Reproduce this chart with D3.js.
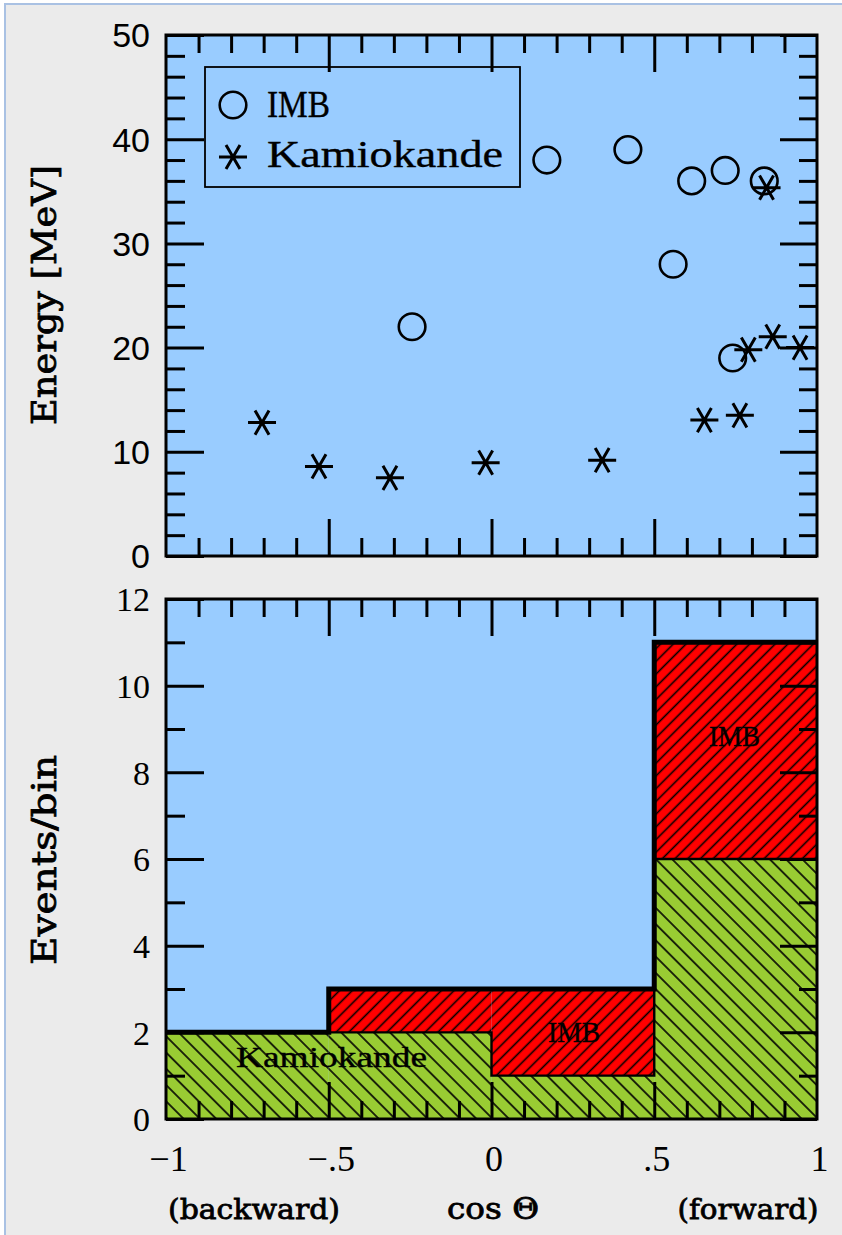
<!DOCTYPE html>
<html><head><meta charset="utf-8">
<script src="https://cdn.jsdelivr.net/npm/d3@7"></script>
<style>
html,body{margin:0;padding:0;background:#ffffff;}
svg{display:block;}
</style></head>
<body>
<script>
// ---------------- data ----------------
const imbCos    = [-0.244, 0.170, 0.419, 0.558, 0.615, 0.718, 0.741, 0.838];
const imbEnergy = [22.0, 38.0, 39.0, 28.0, 36.0, 37.0, 19.0, 36.0];
const kamCos    = [-0.705, -0.530, -0.312, -0.018, 0.340, 0.654, 0.763, 0.789, 0.864, 0.948, 0.845];
const kamEnergy = [12.8, 8.6, 7.5, 8.95, 9.2, 13.05, 13.5, 19.8, 21.05, 20.0, 35.35];

const binEdges  = [-1, -0.5, 0, 0.5, 1];
const kamHist   = [2, 2, 1, 6];
const imbHist   = [0, 1, 2, 5];

const xTickValues = [-1, -0.5, 0, 0.5, 1];
const xTickLabels = ["\u22121", "\u2212.5", "0", ".5", "1"];
const energyTicks = [0, 10, 20, 30, 40, 50];
const eventTicks  = [0, 2, 4, 6, 8, 10, 12];
const seriesNames = ["IMB", "Kamiokande"];

// ---------------- layout ----------------
const W = 842, H = 1235;
const X0 = 166, X1 = 817;
const T_TOP = 35, T_BOT = 556;
const B_TOP = 599, B_BOT = 1119;

const svg = d3.select("body").append("svg").attr("width", W).attr("height", H);

svg.append("rect").attr("x", 5).attr("y", 4).attr("width", W + 20).attr("height", H + 20)
  .attr("fill", "#ebebeb").attr("stroke", "#a9c1e3").attr("stroke-width", 2);

const defs = svg.append("defs");
function hatch(id, color, spacing, angle) {
  const p = defs.append("pattern").attr("id", id).attr("patternUnits", "userSpaceOnUse")
    .attr("width", spacing).attr("height", spacing)
    .attr("patternTransform", `rotate(${angle})`);
  p.append("rect").attr("width", spacing).attr("height", spacing).attr("fill", color);
  p.append("line").attr("x1", spacing / 2).attr("x2", spacing / 2).attr("y1", -1).attr("y2", spacing + 1)
    .attr("stroke", "#000").attr("stroke-width", 1.6);
}
hatch("hatchGreen", "#99cc33", 11.5, -45);
hatch("hatchRed", "#ff0000", 9, 45);

const x = d3.scaleLinear().domain([-1, 1]).range([X0, X1]);
const yE = d3.scaleLinear().domain([0, 50]).range([T_BOT, T_TOP]);
const yN = d3.scaleLinear().domain([0, 12]).range([B_BOT, B_TOP]);

const sansFont = "'Liberation Sans', Arial, sans-serif";
const serifFont = "'Liberation Serif', 'Times New Roman', serif";
const romanFont = "'Liberation Serif', serif";
const slabFont = "'DejaVu Serif', serif";

// backgrounds
svg.append("rect").attr("x", X0).attr("y", T_TOP).attr("width", X1 - X0).attr("height", T_BOT - T_TOP).attr("fill", "#99ccff");
svg.append("rect").attr("x", X0).attr("y", B_TOP).attr("width", X1 - X0).attr("height", B_BOT - B_TOP).attr("fill", "#99ccff");

// ---------------- histogram ----------------
const bins = kamHist.map((k, i) => ({x0: binEdges[i], x1: binEdges[i + 1], kam: k, imb: imbHist[i]}));
const hist = svg.append("g");
hist.selectAll("rect.kam").data(bins).join("rect").attr("class", "kam")
  .attr("x", d => x(d.x0)).attr("width", d => x(d.x1) - x(d.x0))
  .attr("y", d => yN(d.kam)).attr("height", d => yN(0) - yN(d.kam))
  .attr("fill", "url(#hatchGreen)");
hist.selectAll("rect.imb").data(bins.filter(d => d.imb > 0)).join("rect").attr("class", "imb")
  .attr("x", d => x(d.x0)).attr("width", d => x(d.x1) - x(d.x0))
  .attr("y", d => yN(d.kam + d.imb)).attr("height", d => yN(d.kam) - yN(d.kam + d.imb))
  .attr("fill", "url(#hatchRed)");

const step = d3.line().x(d => x(d[0])).y(d => yN(d[1])).curve(d3.curveStepAfter);
const kamPts = binEdges.map((e, i) => [e, kamHist[Math.min(i, kamHist.length - 1)]]);
const totPts = binEdges.map((e, i) => { const j = Math.min(i, kamHist.length - 1); return [e, kamHist[j] + imbHist[j]]; });
hist.append("path").attr("d", step(kamPts)).attr("fill", "none").attr("stroke", "#000").attr("stroke-width", 2.4);
hist.append("path").attr("d", step(totPts)).attr("fill", "none").attr("stroke", "#000").attr("stroke-width", 5);

// ---------------- axes / ticks ----------------
const minorX = d3.range(-9, 10).map(v => v / 10).filter(v => Math.abs(v * 2 - Math.round(v * 2)) > 1e-6);
const majorX = [-0.5, 0, 0.5];

function tickStyle(g) {
  g.select(".domain").remove();
  g.selectAll(".tick line").attr("stroke", "#000").attr("stroke-width", 3);
}

function xTicks(yPos, top) {
  const mk = top ? d3.axisTop : d3.axisBottom;
  svg.append("g").attr("transform", `translate(0,${yPos})`)
    .call(mk(x).tickValues(minorX).tickSize(-18).tickFormat("")).call(tickStyle);
  svg.append("g").attr("transform", `translate(0,${yPos})`)
    .call(mk(x).tickValues(majorX).tickSize(-37).tickFormat("")).call(tickStyle);
}
function yTicks(scale, minorVals, majorVals, labelFont, labelFmt) {
  svg.append("g").attr("transform", `translate(${X0},0)`)
    .call(d3.axisLeft(scale).tickValues(minorVals).tickSize(-19).tickFormat("")).call(tickStyle);
  svg.append("g").attr("transform", `translate(${X0},0)`)
    .call(d3.axisLeft(scale).tickValues(majorVals).tickSize(-38).tickPadding(16).tickFormat(labelFmt))
    .call(tickStyle)
    .call(g => g.selectAll(".tick text").attr("font-family", labelFont).attr("font-size", 34).attr("fill", "#000").attr("dy", "0.35em"));
  svg.append("g").attr("transform", `translate(${X1},0)`)
    .call(d3.axisRight(scale).tickValues(minorVals).tickSize(-18).tickFormat("")).call(tickStyle);
  svg.append("g").attr("transform", `translate(${X1},0)`)
    .call(d3.axisRight(scale).tickValues(majorVals).tickSize(-37).tickFormat("")).call(tickStyle);
}

// top panel
xTicks(T_BOT, false);
xTicks(T_TOP, true);
yTicks(yE, d3.range(2, 50, 2).filter(v => v % 10 !== 0), energyTicks, sansFont, d => String(d));
// bottom panel
xTicks(B_BOT, false);
xTicks(B_TOP, true);
yTicks(yN, d3.range(1, 12, 2), eventTicks, serifFont, d => String(d));

// bottom x tick labels
svg.append("g").attr("transform", `translate(2,${B_BOT})`)
  .call(d3.axisBottom(x).tickValues(xTickValues).tickSize(0).tickPadding(26)
    .tickFormat((d, i) => xTickLabels[i]))
  .call(g => g.select(".domain").remove())
  .call(g => g.selectAll(".tick text").attr("font-family", serifFont).attr("font-size", 36).attr("fill", "#000"));

// frames
svg.append("rect").attr("x", X0).attr("y", T_TOP).attr("width", X1 - X0).attr("height", T_BOT - T_TOP)
  .attr("fill", "none").attr("stroke", "#000").attr("stroke-width", 3);
svg.append("rect").attr("x", X0).attr("y", B_TOP).attr("width", X1 - X0).attr("height", B_BOT - B_TOP)
  .attr("fill", "none").attr("stroke", "#000").attr("stroke-width", 3);

// ---------------- scatter ----------------
const starR = 14;
function starPath(r) {
  const u = r * Math.cos(Math.PI / 3), v = r * Math.sin(Math.PI / 3);
  return `M${-r},0L${r},0M${-u},${-v}L${u},${v}M${-u},${v}L${u},${-v}`;
}
const pts = svg.append("g");
pts.selectAll("circle.imb").data(imbCos.map((c, i) => [c, imbEnergy[i]])).join("circle")
  .attr("class", "imb").attr("cx", d => x(d[0])).attr("cy", d => yE(d[1])).attr("r", 13.3)
  .attr("fill", "none").attr("stroke", "#000").attr("stroke-width", 2.6);
pts.selectAll("path.kam").data(kamCos.map((c, i) => [c, kamEnergy[i]])).join("path")
  .attr("class", "kam").attr("transform", d => `translate(${x(d[0])},${yE(d[1])})`)
  .attr("d", starPath(starR)).attr("fill", "none").attr("stroke", "#000").attr("stroke-width", 3);

// legend
const heavy = sel => sel.attr("stroke", "#000").attr("stroke-width", 0.35).attr("fill", "#000");
const lg = svg.append("g");
lg.append("rect").attr("x", 205).attr("y", 67).attr("width", 315).attr("height", 120)
  .attr("fill", "none").attr("stroke", "#000").attr("stroke-width", 1.8);
lg.append("circle").attr("cx", 233).attr("cy", 105).attr("r", 13.3).attr("fill", "none").attr("stroke", "#000").attr("stroke-width", 2.6);
lg.append("path").attr("transform", "translate(233,157)").attr("d", starPath(starR)).attr("fill", "none").attr("stroke", "#000").attr("stroke-width", 3);
lg.append("text").attr("x", 267).attr("y", 117).text(seriesNames[0]).call(heavy)
  .attr("font-family", romanFont).attr("font-size", 37).attr("textLength", 63).attr("lengthAdjust", "spacingAndGlyphs");
lg.append("text").attr("x", 267).attr("y", 167).text(seriesNames[1]).call(heavy)
  .attr("font-family", romanFont).attr("font-size", 37).attr("textLength", 236).attr("lengthAdjust", "spacingAndGlyphs");

// histogram labels
svg.append("text").attr("x", 709).attr("y", 746).text(seriesNames[0]).call(heavy)
  .attr("font-family", romanFont).attr("font-size", 30).attr("textLength", 51).attr("lengthAdjust", "spacingAndGlyphs");
svg.append("text").attr("x", 548).attr("y", 1042).text(seriesNames[0]).call(heavy)
  .attr("font-family", romanFont).attr("font-size", 30).attr("textLength", 52).attr("lengthAdjust", "spacingAndGlyphs");
svg.append("text").attr("x", 236).attr("y", 1067).text(seriesNames[1]).call(heavy)
  .attr("font-family", romanFont).attr("font-size", 30).attr("textLength", 191).attr("lengthAdjust", "spacingAndGlyphs");

// axis titles
const slabStyle = sel => sel.attr("font-family", slabFont).attr("fill", "#000")
  .attr("stroke", "#000").attr("stroke-width", 0.8).attr("lengthAdjust", "spacingAndGlyphs");
svg.append("text").attr("transform", "translate(56,295) rotate(-90)").attr("text-anchor", "middle")
  .call(slabStyle).attr("font-size", 33).attr("textLength", 260).text("Energy [MeV]");
svg.append("text").attr("transform", "translate(56,860) rotate(-90)").attr("text-anchor", "middle")
  .call(slabStyle).attr("font-size", 33).attr("textLength", 210).text("Events/bin");
svg.append("text").attr("x", 254).attr("y", 1219).attr("text-anchor", "middle")
  .call(slabStyle).attr("font-size", 28).attr("textLength", 172).text("(backward)");
svg.append("text").attr("x", 493).attr("y", 1219).attr("text-anchor", "middle")
  .call(slabStyle).attr("font-size", 30).attr("textLength", 92).text("cos \u0398");
svg.append("text").attr("x", 748).attr("y", 1219).attr("text-anchor", "middle")
  .call(slabStyle).attr("font-size", 28).attr("textLength", 141).text("(forward)");
</script>
</body></html>
